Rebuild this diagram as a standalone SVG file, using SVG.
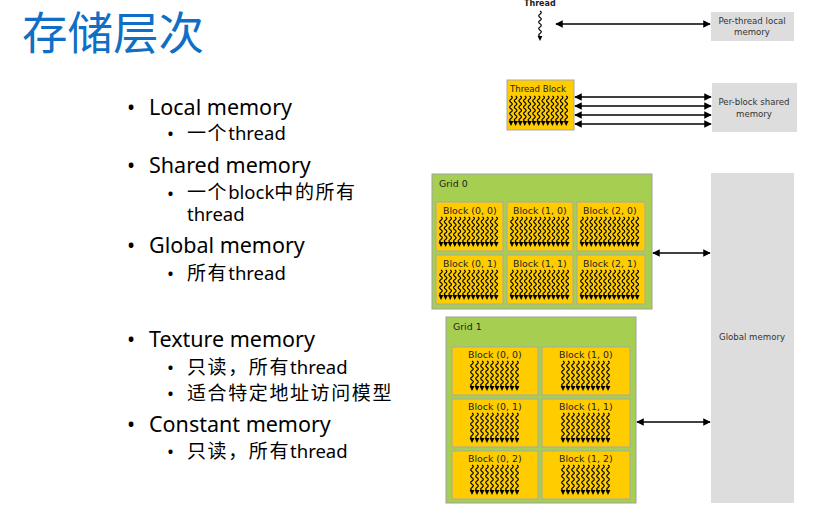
<svg xmlns="http://www.w3.org/2000/svg" xmlns:xlink="http://www.w3.org/1999/xlink" width="831" height="505" viewBox="0 0 831 505">
<style>
.title{font-family:"Noto Sans","Noto Sans CJK SC",sans-serif;font-size:45.5px;fill:#0F6FC6}
.l1{font-family:"Noto Sans","Noto Sans CJK SC",sans-serif;font-size:21.5px;fill:#000}
.l2{font-family:"Noto Sans","Noto Sans CJK SC",sans-serif;font-size:18.5px;fill:#000}
.cj{font-size:19px;letter-spacing:1.6px}
.dl{font-family:"DejaVu Sans",sans-serif;font-size:9.4px;fill:#222}
.ml{font-family:"DejaVu Sans",sans-serif;font-size:8.6px;fill:#333;text-anchor:middle}
.mem{fill:#DDDDDD}
.blk{fill:#FFCC00;stroke:#A8A8A8;stroke-width:1}
.grid{fill:#A6CE50;stroke:#A0A0A0;stroke-width:1}
.conn{stroke:#000;stroke-width:1.5;fill:none;marker-start:url(#ah);marker-end:url(#ah)}
.wv{fill:none;stroke:#000;stroke-width:1.2}
</style>
<defs>
<marker id="ah" viewBox="0 0 10 10" refX="9" refY="5" markerWidth="5" markerHeight="5" orient="auto-start-reverse" markerUnits="strokeWidth">
<path d="M0,0 L10,5 L0,10 z" fill="#000"/>
</marker>
<g id="th">
<path class="wv" d="M0,0 q2.6,1.6 0,3.2 t0,3.2 t0,3.2 t0,3.2 t0,3.2 t0,3.2 t0,3.2 t0,3.2"/>
<polygon points="-2.4,25 2.4,25 0,30" fill="#000"/>
</g>
<g id="row13">
<use xlink:href="#th" x="0"/><use xlink:href="#th" x="4.6"/><use xlink:href="#th" x="9.2"/><use xlink:href="#th" x="13.8"/><use xlink:href="#th" x="18.4"/><use xlink:href="#th" x="23"/><use xlink:href="#th" x="27.6"/><use xlink:href="#th" x="32.2"/><use xlink:href="#th" x="36.8"/><use xlink:href="#th" x="41.4"/><use xlink:href="#th" x="46"/><use xlink:href="#th" x="50.6"/><use xlink:href="#th" x="55.2"/>
</g>
<g id="row10">
<use xlink:href="#th" x="0"/><use xlink:href="#th" x="5"/><use xlink:href="#th" x="10"/><use xlink:href="#th" x="15"/><use xlink:href="#th" x="20"/><use xlink:href="#th" x="25"/><use xlink:href="#th" x="30"/><use xlink:href="#th" x="35"/><use xlink:href="#th" x="40"/><use xlink:href="#th" x="45"/>
</g>
</defs>
<rect width="831" height="505" fill="#fff"/>

<g id="title"><text class="title" x="22" y="50">存储层次</text></g>

<g id="bullets">
<text class="l1" x="127" y="115">•</text><text class="l1" x="149" y="115">Local memory</text>
<text class="l2" x="167" y="140">•</text><text class="l2" x="187" y="140"><tspan class="cj">一个</tspan>thread</text>
<text class="l1" x="127" y="173">•</text><text class="l1" x="149" y="173">Shared memory</text>
<text class="l2" x="167" y="200">•</text><text class="l2" x="187" y="199"><tspan class="cj">一个</tspan>block<tspan class="cj">中的所有</tspan><tspan x="187" y="221">thread</tspan></text>
<text class="l1" x="127" y="253">•</text><text class="l1" x="149" y="253">Global memory</text>
<text class="l2" x="167" y="280">•</text><text class="l2" x="187" y="280"><tspan class="cj">所有</tspan>thread</text>
<text class="l1" x="127" y="347">•</text><text class="l1" x="149" y="347">Texture memory</text>
<text class="l2" x="167" y="374">•</text><text class="l2" x="187" y="374"><tspan class="cj">只读，所有</tspan>thread</text>
<text class="l2" x="167" y="400">•</text><text class="l2" x="187" y="400"><tspan class="cj">适合特定地址访问模型</tspan></text>
<text class="l1" x="127" y="432">•</text><text class="l1" x="149" y="432">Constant memory</text>
<text class="l2" x="167" y="458">•</text><text class="l2" x="187" y="458"><tspan class="cj">只读，所有</tspan>thread</text>
</g>

<g id="thread">
<text class="dl" x="524" y="6" style="font-size:8px;font-weight:bold">Thread</text>
<use xlink:href="#th" x="540" y="11"/>
</g>

<g id="local-mem">
<rect class="mem" x="711" y="12" width="83" height="29"/>
<text class="ml" x="752" y="24">Per-thread local</text>
<text class="ml" x="752" y="35">memory</text>
</g>

<g id="thread-block">
<rect class="blk" x="507" y="80" width="67" height="50"/>
<text class="dl" x="510" y="92" style="font-size:8.6px">Thread Block</text>
<use xlink:href="#row13" x="511" y="96"/>
</g>

<g id="shared-mem">
<rect class="mem" x="712" y="83" width="85" height="49"/>
<text class="ml" x="754" y="105">Per-block shared</text>
<text class="ml" x="754" y="117">memory</text>
</g>

<g id="grid0">
<rect class="grid" x="432" y="174" width="220" height="135"/>
<text class="dl" x="439" y="187">Grid 0</text>
<g id="g0b00"><rect class="blk" x="436" y="202" width="67" height="49"/><text class="dl" x="443" y="214">Block (0, 0)</text><use xlink:href="#row13" x="441" y="217"/></g>
<g id="g0b10"><rect class="blk" x="507" y="202" width="66" height="49"/><text class="dl" x="513" y="214">Block (1, 0)</text><use xlink:href="#row13" x="512" y="217"/></g>
<g id="g0b20"><rect class="blk" x="577" y="202" width="68" height="49"/><text class="dl" x="583" y="214">Block (2, 0)</text><use xlink:href="#row13" x="582" y="217"/></g>
<g id="g0b01"><rect class="blk" x="436" y="255" width="67" height="49"/><text class="dl" x="443" y="267">Block (0, 1)</text><use xlink:href="#row13" x="441" y="270"/></g>
<g id="g0b11"><rect class="blk" x="507" y="255" width="66" height="49"/><text class="dl" x="513" y="267">Block (1, 1)</text><use xlink:href="#row13" x="512" y="270"/></g>
<g id="g0b21"><rect class="blk" x="577" y="255" width="68" height="49"/><text class="dl" x="583" y="267">Block (2, 1)</text><use xlink:href="#row13" x="582" y="270"/></g>
</g>

<g id="grid1">
<rect class="grid" x="446" y="317" width="190" height="186"/>
<text class="dl" x="453" y="330">Grid 1</text>
<g id="g1b00"><rect class="blk" x="452" y="347" width="86" height="48"/><text class="dl" x="468" y="358">Block (0, 0)</text><use xlink:href="#row10" x="472" y="361"/></g>
<g id="g1b10"><rect class="blk" x="542" y="347" width="88" height="48"/><text class="dl" x="559" y="358">Block (1, 0)</text><use xlink:href="#row10" x="563" y="361"/></g>
<g id="g1b01"><rect class="blk" x="452" y="399" width="86" height="48"/><text class="dl" x="468" y="410">Block (0, 1)</text><use xlink:href="#row10" x="472" y="413"/></g>
<g id="g1b11"><rect class="blk" x="542" y="399" width="88" height="48"/><text class="dl" x="559" y="410">Block (1, 1)</text><use xlink:href="#row10" x="563" y="413"/></g>
<g id="g1b02"><rect class="blk" x="452" y="451" width="86" height="48"/><text class="dl" x="468" y="462">Block (0, 2)</text><use xlink:href="#row10" x="472" y="465"/></g>
<g id="g1b12"><rect class="blk" x="542" y="451" width="88" height="48"/><text class="dl" x="559" y="462">Block (1, 2)</text><use xlink:href="#row10" x="563" y="465"/></g>
</g>

<g id="global-mem">
<rect class="mem" x="711" y="173" width="83" height="330"/>
<text class="ml" x="752" y="340">Global memory</text>
</g>

<g id="connectors">
<line class="conn" x1="556" y1="24" x2="710" y2="24"/>
<line class="conn" x1="575" y1="97" x2="711" y2="97"/>
<line class="conn" x1="575" y1="106" x2="711" y2="106"/>
<line class="conn" x1="575" y1="115" x2="711" y2="115"/>
<line class="conn" x1="575" y1="124" x2="711" y2="124"/>
<line class="conn" x1="653" y1="253" x2="710" y2="253"/>
<line class="conn" x1="637" y1="422" x2="710" y2="422"/>
</g>
</svg>
